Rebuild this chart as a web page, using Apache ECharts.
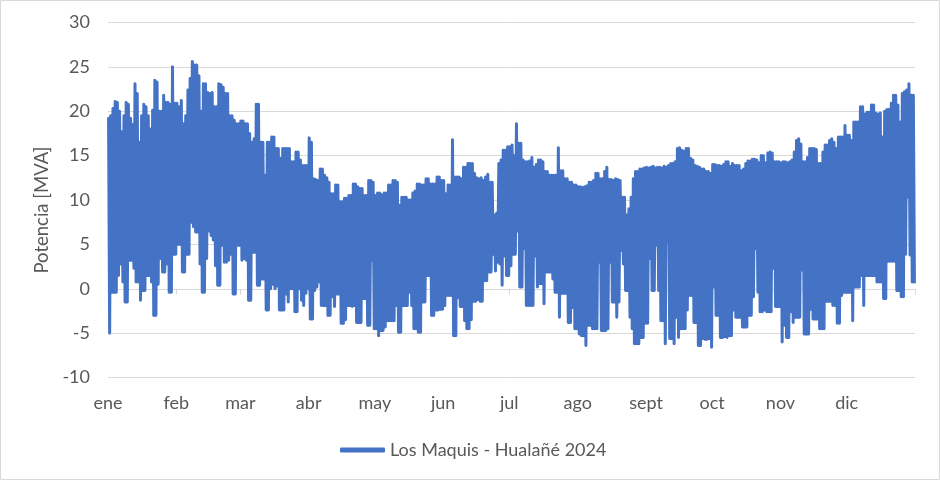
<!DOCTYPE html>
<html><head><meta charset="utf-8">
<script src="https://cdn.jsdelivr.net/npm/echarts@6/dist/echarts.min.js"></script>
<style>html,body{margin:0;padding:0;background:#fff}#c{width:940px;height:480px}</style>
</head><body><div id="c"></div>
<script>
// ---- data ----
const monthLabels = ['ene','feb','mar','abr','may','jun','jul','ago','sept','oct','nov','dic'];
const monthStartDays = [0,31,60,91,121,152,182,213,244,274,305,335];
const yearDays = 366;
const seriesName = 'Los Maquis - Hualañé 2024';
const yMin = -10, yMax = 30, yStep = 5;

// daily maximum of the hourly apparent power (MVA), 1 Jan .. 31 Dec 2024
const dailyMax = [
 19.2,19.5,20.3,21.1,21,20,17.7,19.5,21,20.8, 19.2,18.5,23.1,22,16.5,19.5,20.8,20.5,19.5,18, 20.1,23.5,23.3,20,20,21.8,21,21,20.8,25,20.9,
 20.9,20.5,21.2,18.6,19.5,22.4,23.7,25.6,25.2,25.2, 24,20,23.1,23.1,22.1,22,22.1,20.5,20.5,23.1, 23,22.7,22,22,19.5,19.5,19,18.6,18.6,
 18.9,18.9,18.6,18.6,17.5,16.5,16.9,20.8,20.8,16.5, 16.5,12.8,16.5,16.5,17.1,17.1,15.8,15.8,14.7,15.8, 15.8,15.8,15.8,14.3,14.3,15.4,15.4,14.5,13.9,13.9,13.9,
 17,16.5,12.4,12.3,12.2,13.5,13.5,12.8,12.5,12, 10.7,10.7,11.7,11.7,9.8,9.8,10.2,10.2,10.5,10.5, 11.8,11.8,11.5,11.3,11.3,10.5,10.5,12.2,12.2,12,
 10.5,10.8,10.8,10.6,10.8,10.8,11.7,11.7,12.2,12.2, 12,9.4,10.3,10.3,10.3,10,10,10.8,11,11.8, 11.8,11.7,11.7,12.4,12.4,11.8,11.8,11.8,12.6,12.6,12.2,
 12.2,10.7,11.7,11.7,16.8,12.6,12.6,12.6,12.4,13.7, 13.7,14.1,14.1,14.1,13,12.5,12.4,12.5,12.2,12.6, 12.9,12,12,8.3,8.5,14.1,14.5,15.6,15.6,16,
 16,16.2,15,18.6,16.4,16.4,14.5,14.3,14.3,14.4, 14.8,13.7,14,14.5,14.5,14.3,13.2,13.2,12.8,12.8, 12.8,12.8,15.9,13.3,13.3,12.4,12.4,12,12,11.7,11.7,
 11.5,11.5,11.4,11.5,11.6,12,12,12.2,13,13, 12.4,12.4,13.2,13.7,12.3,12.3,12.2,12.4,12.3,12.2, 10.3,10.3,8.3,9,10.3,12.4,13.2,13.2,13.5,13.5,13.6,
 13.7,13.6,13.7,13.8,13.6,13.7,13.7,13.6,13.8,13.7, 13.9,14.1,14.1,14.3,15.8,15.9,15.6,15.5,15.8,15.8, 14.7,14.5,13.9,13.8,13.7,13.5,13.5,13.2,13.2,13,
 14,14,13.9,13.9,13.8,14,14.3,14.3,13.8,14.1, 13.9,13.9,13.9,13.3,13.5,14.1,14.4,14.4,14.6,14.6, 14.5,14.2,15,15,14.2,15.3,15.4,15.3,14.3,14.3,14.3,
 14.2,14.3,14.3,14.2,14.3,14.5,15.4,16.7,16.9,16.3, 14.3,14.3,14.8,15.8,15.8,15.8,15.7,14.1,14.1,15.4, 16.2,16.2,16.7,16.9,16.5,15.8,17.1,17.1,17.1,18.4,
 17.3,17.3,16.7,18.8,18.8,18.8,20.5,20.5,19.7,19.9, 19.9,20.7,20.7,19.8,19.7,19.8,17.1,20,20.2,20.2, 20.9,21.8,21.8,20.7,18.8,22,22.2,22.4,23.1,21.8,21.8
];

// daily minimum of the hourly apparent power (MVA)
const dailyMin = [
 -5,-0.4,-0.4,-0.4,1.5,2.8,0.75,-1.5,-1.5,3.2, 3.2,2.3,0.75,0.75,-1.3,-0.2,-0.2,1.5,1.5,0.75, -3,-3,0.5,3.4,1.9,1.9,2.8,-0.4,-0.4,3.9,3.9,
 5,5,1.9,1.9,3.9,3.9,7.5,7,6.4,6.4, 2.8,-0.4,-0.4,3.4,6.5,6,5.5,2.6,0.4,0.4, 4.9,3,3,3.2,3.9,-0.6,-0.6,4.9,4.9,
 3.2,3.4,3.2,-1.3,-1.3,4.1,4.1,0.4,0.4,1.1, 1.1,-2.4,-2.4,0,0.5,0,0.3,-2.4,-2.4,-2.4, -0.6,-1.5,0,0,-2.6,-2.6,0,-1.3,-1.9,-0.5,0,
 -3.4,-3.4,-0.2,0.2,0.75,-1.9,-1.9,-1.9,-3,-3, -0.9,-2,-0.6,-0.6,-3.9,-3.9,-3.5,-1.9,-1.9,-2, -1.9,-3.8,-3.8,-3.8,-1.1,-1.1,-4.1,-4.1,3.2,-4.5,
 -4.5,-5.3,-4.7,-4.7,-4.3,-3.6,-3.6,-3.6,-3.6,-1.9, -4.9,-4.9,-1.9,-1.9,-1.9,-0.4,-1.9,-4.5,-4.5,-4.9, -4.9,-1.5,-1.5,1.5,1.5,-3,-3,-2.4,-2.4,-2.3,-2.3,
 -1.9,-0.75,-0.75,-0.75,-5.3,-5.3,-1,-2,-2,-3.6, -4.5,-4.5,-3.5,-1.4,-1.4,-1.2,-1.4,-1.4,0.9,0.9, 1.9,1.9,3.9,2,3,2.8,0.4,3.7,1.5,1.5,
 2.6,3.9,3.9,6.5,0.2,0.2,4.5,-1.9,-1.9,-1.9, -1.9,3.7,0.2,0.6,0.6,-1.7,1.9,1.9,1.9,1.1, -0.4,-0.4,-3.2,-0.5,-0.5,-0.5,-3.8,-3.8,-2.1,-4.5,-4.5,
 -5.1,-5.3,-5.3,-6.4,-4.1,-4.1,-4.5,-4.5,-4.5,3, -4.7,-4.7,-4.7,-4.5,3,-1.5,-1.5,-3.2,-1.5,4.3, 2.8,-0.2,-0.2,-3.2,-4.5,-6.2,-6.2,-6.2,-5.5,-5.5,-3.9,
 -3.9,3.4,-0.2,-0.2,4.9,-0.2,-3.6,-3.6,-6.2,5.3, -5.6,-5.6,-6.2,-3.2,-5.5,-4.5,-4.5,-4.5,-2.4,-0.75, -0.75,-3.8,-3.8,-6.4,-6.4,-5.6,-5.7,-5.7,-5.6,-6.6,
 0.2,-3,-3,-5.5,-5.5,-5.4,-5.5,-5.3,-5.3,-2.4, -3.2,-3.2,-3.2,-4.3,-4.3,-4.3,-3,-3,-0.9,4.5, -0.4,-2.6,-2.6,-2.4,-2.6,-2.6,-2.6,2.3,-2,-2,-2,
 -6,-4.1,-5.5,-5.5,-2.6,-3.8,-3.2,-3.2,-3.2,2.1, -5.1,-5.1,-5.1,-2.3,-3.4,-3.4,-3.4,-4.5,-4.5,-4.5, -1.4,-1.4,-1.4,-1.9,-1.9,-3.9,-3.9,-0.75,-0.4,-0.4,
 -0.4,-0.4,-3.6,0.2,0.2,0.2,1.5,-1.9,1.5,1.5, 1.5,1.5,1.5,0.75,0.75,0.75,-1.1,-1.1,3.1,3.1, 3.1,3.1,-0.2,-0.2,-0.9,-0.9,3.9,10.3,3.8,0.75,0.75
];

// ---- build series: each day goes up to its max and down to its min ----
const lineData = [];
for (let d = 0; d < dailyMax.length; d++) {
  lineData.push([d + 0.25, dailyMax[d]]);
  lineData.push([d + 0.75, dailyMin[d]]);
}

const FONT = 'Lato, Carlito, Calibri, "Open Sans", sans-serif';
const TXT = '#595959';
const GRID = '#d9d9d9';
const BLUE = '#4472C4';

const chart = echarts.init(document.getElementById('c'), null, {renderer: 'canvas'});
chart.setOption({
  animation: false,
  backgroundColor: '#fff',
  textStyle: {fontFamily: FONT},
  graphic: [{
    type: 'rect', silent: true, z: -10,
    shape: {x: 0.5, y: 0.5, width: 939, height: 479},
    style: {fill: 'none', stroke: GRID, lineWidth: 1}
  }],
  grid: {left: 108, right: 25, top: 22.5, height: 355, containLabel: false},
  legend: {
    data: [seriesName],
    left: 335, top: 436,
    icon: 'roundRect', itemWidth: 45, itemHeight: 5,
    textStyle: {color: TXT, fontSize: 18, fontFamily: FONT}
  },
  xAxis: [{
    type: 'value', min: 0, max: yearDays,
    axisLine: {show: true, onZero: true, lineStyle: {color: GRID, width: 1}},
    axisTick: {show: true, customValues: monthStartDays.concat([yearDays]), length: 6, lineStyle: {color: GRID}},
    axisLabel: {show: false},
    splitLine: {show: false}
  }, {
    type: 'value', min: 0, max: yearDays, position: 'bottom',
    axisLine: {show: false, onZero: false},
    axisTick: {show: false},
    splitLine: {show: false},
    axisLabel: {
      show: true, customValues: monthStartDays, margin: 17,
      color: TXT, fontSize: 18, fontFamily: FONT,
      formatter: v => monthLabels[monthStartDays.indexOf(Math.round(v))] || ''
    }
  }],
  yAxis: {
    type: 'value', min: yMin, max: yMax, interval: yStep,
    name: 'Potencia [MVA]', nameLocation: 'middle', nameGap: 56,
    nameTextStyle: {color: TXT, fontSize: 18.5, fontFamily: FONT, padding: [0, 20, 0, 0]},
    axisLine: {show: false}, axisTick: {show: false},
    axisLabel: {color: TXT, fontSize: 18, fontFamily: FONT, margin: 18},
    splitLine: {lineStyle: {color: GRID, width: 1}}
  },
  series: [{
    name: seriesName, type: 'line', xAxisIndex: 0,
    data: lineData, showSymbol: false, symbol: 'none', silent: true,
    itemStyle: {color: BLUE},
    lineStyle: {color: BLUE, width: 3, join: 'round', cap: 'round'},
    z: 3
  }]
});
</script></body></html>
